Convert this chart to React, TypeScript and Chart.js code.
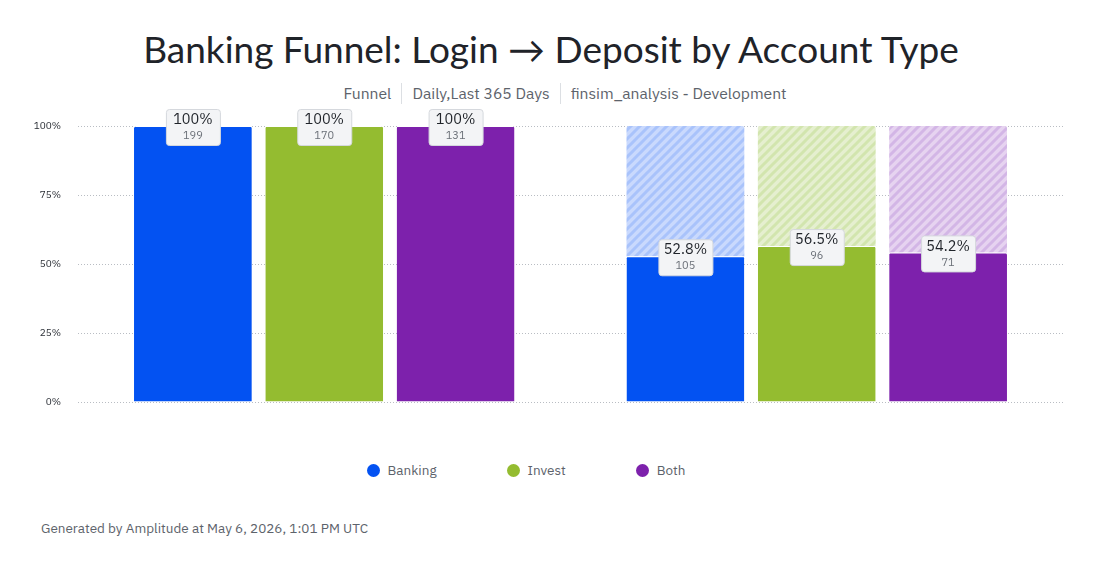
import { useEffect, useRef } from 'react';
import { Chart, registerables } from 'chart.js';
Chart.register(...registerables);

const STEPS = ['Login', 'Deposit'];
const TYPES = ['Banking', 'Invest', 'Both'];
const CONVERTED_PCT: number[][] = [
  [100, 52.8],
  [100, 56.5],
  [100, 54.2]
];
const COUNTS: number[][] = [
  [199, 105],
  [170, 96],
  [131, 71]
];
const Y_TICKS = [0, 25, 50, 75, 100];

const COLORS = ['#0352F2', '#94BC30', '#7D21AC'];
const HATCH_BASE = ['#c9d9fd', '#e5efcf', '#e6d3f0'];
const HATCH_STRIPE = ['#a9c3fb', '#d2e5ae', '#d3b6e6'];

const FONT = '"IBM Plex Sans", "Noto Sans", "Open Sans", sans-serif';

function makeHatch(base: string, stripe: string): CanvasPattern | string {
  const s = 9;
  const c = document.createElement('canvas');
  c.width = s;
  c.height = s;
  const g = c.getContext('2d');
  if (!g) return base;
  g.fillStyle = base;
  g.fillRect(0, 0, s, s);
  g.strokeStyle = stripe;
  g.lineWidth = 3;
  g.beginPath();
  g.moveTo(-1, s + 1);
  g.lineTo(s + 1, -1);
  g.moveTo(-s / 2 - 1, s / 2 + 1);
  g.lineTo(s / 2 + 1, -s / 2 - 1);
  g.moveTo(s / 2 - 1, s * 1.5 + 1);
  g.lineTo(s * 1.5 + 1, s / 2 - 1);
  g.stroke();
  const p = g.createPattern(c, 'repeat');
  return p || base;
}

const labelPlugin = {
  id: 'stepLabels',
  afterDatasetsDraw(chart: Chart) {
    const ctx = chart.ctx;
    TYPES.forEach((_, ti) => {
      const meta = chart.getDatasetMeta(ti);
      meta.data.forEach((bar: any, si: number) => {
        const pct = CONVERTED_PCT[ti][si];
        const txt = pct === 100 ? '100%' : pct.toFixed(1) + '%';
        const w = 54;
        const h = 36;
        const x = bar.x - w / 2;
        const y = bar.y - h / 2 + 1;
        ctx.save();
        ctx.setLineDash([]);
        ctx.beginPath();
        ctx.roundRect(x + 0.5, y + 0.5, w, h, 3);
        ctx.fillStyle = '#f3f4f6';
        ctx.fill();
        ctx.strokeStyle = '#d5d8dd';
        ctx.lineWidth = 1;
        ctx.stroke();
        ctx.textAlign = 'center';
        ctx.textBaseline = 'middle';
        ctx.fillStyle = '#1f2329';
        ctx.font = `14.5px ${FONT}`;
        ctx.fillText(txt, bar.x, y + 11);
        ctx.fillStyle = '#6b7078';
        ctx.font = `11px ${FONT}`;
        ctx.fillText(String(COUNTS[ti][si]), bar.x, y + 27);
        ctx.restore();
      });
    });
  }
};

function FunnelChart() {
  const canvasRef = useRef<HTMLCanvasElement>(null);
  const chartRef = useRef<Chart | null>(null);

  useEffect(() => {
    if (!canvasRef.current) return;
    if (chartRef.current) chartRef.current.destroy();
    const ctx = canvasRef.current.getContext('2d');
    if (!ctx) return;

    const converted = TYPES.map((t, i) => ({
      label: t,
      data: CONVERTED_PCT[i],
      stack: t,
      backgroundColor: COLORS[i],
      borderColor: '#ffffff',
      borderWidth: { top: 1, left: 0, right: 0, bottom: 0 },
      borderRadius: { topLeft: 2, topRight: 2 },
      borderSkipped: false as const,
      categoryPercentage: 0.8,
      barPercentage: 0.897
    }));
    const dropped = TYPES.map((t, i) => ({
      label: t + ' drop-off',
      data: CONVERTED_PCT[i].map(v => 100 - v),
      stack: t,
      backgroundColor: makeHatch(HATCH_BASE[i], HATCH_STRIPE[i]),
      borderWidth: 0,
      borderRadius: { topLeft: 2, topRight: 2 },
      borderSkipped: false as const,
      categoryPercentage: 0.8,
      barPercentage: 0.897
    }));

    chartRef.current = new Chart(ctx, {
      type: 'bar',
      data: {
        labels: STEPS,
        datasets: [...converted, ...dropped] as any
      },
      options: {
        animation: false,
        responsive: false,
        maintainAspectRatio: false,
        layout: { padding: { top: 26, bottom: 14, right: 39, left: 0 } },
        plugins: {
          legend: { display: false },
          tooltip: { enabled: false }
        },
        scales: {
          x: { display: false, stacked: true },
          y: {
            stacked: true,
            min: 0,
            max: 100,
            afterFit: (scale: any) => { scale.width = 78; },
            afterBuildTicks: (scale: any) => {
              scale.ticks = Y_TICKS.map(v => ({ value: v }));
            },
            border: { display: false, dash: [1, 2] },
            grid: {
              color: '#b9bdc3',
              drawTicks: false,
              lineWidth: 1
            },
            ticks: {
              padding: 17,
              color: '#2b2f36',
              font: { size: 10, family: FONT },
              callback: (v: any) => v + '%'
            }
          }
        }
      },
      plugins: [labelPlugin]
    });

    return () => {
      if (chartRef.current) {
        chartRef.current.destroy();
        chartRef.current = null;
      }
    };
  }, []);

  return (
    <canvas
      ref={canvasRef}
      width={1102}
      height={325}
      style={{ position: 'absolute', left: 0, top: 100, width: 1102, height: 325 }}
    />
  );
}

const sep = { width: 1, height: 21, background: '#dcdfe3', margin: '0 10px' };

export default function App() {
  return (
    <div style={{ position: 'absolute', left: 0, top: 0, width: 1102, height: 576, background: '#fff', fontFamily: FONT, overflow: 'hidden' }}>
      <div style={{ position: 'absolute', top: 26, left: 0, width: 1102, textAlign: 'center', fontFamily: 'Lato, "Noto Sans", sans-serif', fontSize: 37, color: '#1f2329', lineHeight: '46px' }}>
        Banking Funnel: Login → Deposit by Account Type
      </div>
      <div style={{ position: 'absolute', top: 82, left: 14, width: 1102, display: 'flex', justifyContent: 'center', alignItems: 'center', fontSize: 15.7, color: '#5d636b', lineHeight: '22px' }}>
        <span>Funnel</span>
        <span style={sep} />
        <span>Daily,Last 365 Days</span>
        <span style={sep} />
        <span>finsim_analysis - Development</span>
      </div>
      <FunnelChart />
      <div style={{ position: 'absolute', top: 461, left: -25, width: 1102, display: 'flex', justifyContent: 'center', alignItems: 'center', fontSize: 13.5, color: '#5d636b', gap: 70 }}>
        {TYPES.map((t, i) => (
          <div key={t} style={{ display: 'flex', alignItems: 'center' }}>
            <span style={{ width: 13, height: 13, borderRadius: '50%', background: COLORS[i], marginRight: 8 }} />
            <span>{t}</span>
          </div>
        ))}
      </div>
      <div style={{ position: 'absolute', top: 519, left: 41, fontSize: 13.5, color: '#5d636b' }}>
        Generated by Amplitude at May 6, 2026, 1:01 PM UTC
      </div>
    </div>
  );
}
